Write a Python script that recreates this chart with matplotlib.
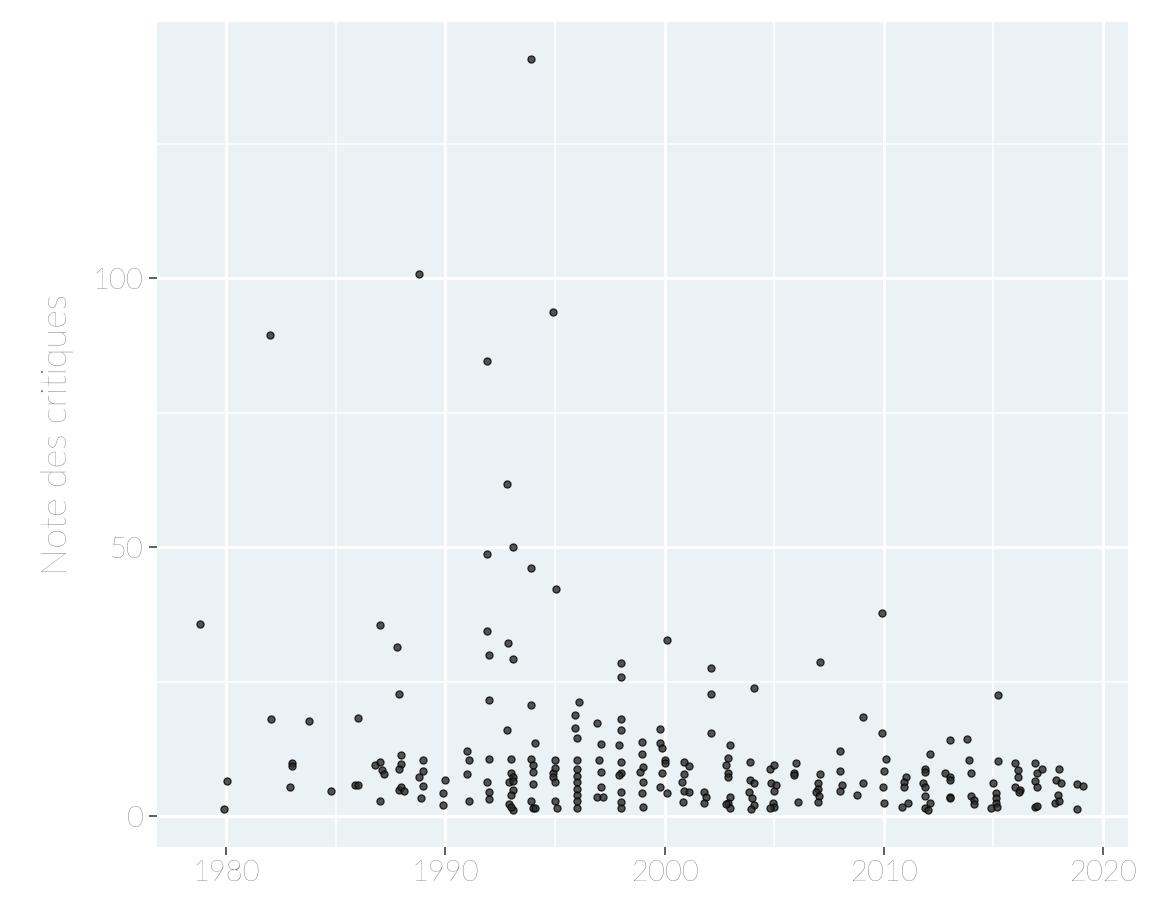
import matplotlib.pyplot as plt
from matplotlib.ticker import MultipleLocator

# ── Données (année jitterée, note) ───────────────────────────────────────────
years = [
    1978.8, 1979.9, 1980.05, 1982.0, 1982.05, 1983.0, 1983.0, 1982.9, 1983.8, 1984.8,
    1985.9, 1986.0, 1986.0, 1987.0, 1986.8, 1987.0, 1987.1, 1987.2, 1987.0,
    1987.8, 1987.9, 1988.0, 1988.0, 1987.9, 1987.9, 1988.0, 1988.1, 1988.8,
    1989.0, 1989.0, 1988.8, 1989.0, 1988.9,
    1990.0, 1989.9, 1989.9, 1991.0, 1991.1, 1991.0, 1991.1,
    1991.9, 1992.0, 1992.0, 1992.0, 1991.9, 1992.0, 1992.0, 1991.9,
    1992.85, 1993.1, 1992.8, 1993.0, 1993.0, 1993.1, 1992.9, 1993.1, 1993.1, 1993.0, 1992.9, 1993.1, 1993.0,
    1992.8, 1993.1, 1991.9,
    1993.9, 1994.1, 1993.9, 1994.0, 1994.0, 1994.0, 1993.9, 1994.0, 1994.1, 1993.9,
    1995.05, 1995.0, 1994.9, 1994.9, 1995.0, 1995.0, 1995.1, 1994.9, 1995.0,
    1995.9, 1995.9, 1996.0, 1996.1,
    1996.0, 1996.0, 1996.0, 1996.0, 1996.0, 1996.0, 1996.0, 1996.0,
    1996.9, 1997.1, 1997.0, 1997.1, 1997.1, 1996.9, 1997.2,
    1998.0, 1998.0, 1998.0, 1998.0, 1997.9, 1998.0, 1998.0, 1997.9, 1998.0, 1998.0, 1998.0,
    1998.95, 1998.95, 1999.0, 1998.9, 1999.0, 1998.95, 1999.0,
    2000.1, 1999.8, 1999.8, 1999.9, 2000.0, 2000.0, 1999.9, 1999.8, 2000.1,
    2002.1, 2002.1, 2002.1,
    2000.9, 2001.1, 2000.9, 2000.8, 2000.9, 2001.1, 2000.85,
    2001.8, 2001.9, 2001.8,
    2003.0, 2002.9, 2002.8, 2002.9, 2002.9, 2003.0, 2002.9, 2003.0, 2002.8,
    2004.1, 2003.9, 2003.9, 2004.1, 2003.85, 2004.0, 2004.1, 2003.95,
    2004.8, 2005.0, 2004.85, 2005.1, 2005.0, 2004.95, 2005.0, 2004.8,
    2006.0, 2005.9, 2005.9, 2006.1,
    2007.1, 2007.1, 2007.0, 2007.0, 2006.9, 2007.05, 2007.0,
    2008.0, 2008.0, 2008.1, 2008.0,
    2009.05, 2009.05, 2008.8,
    2009.9, 2009.9, 2010.1, 2010.0, 2009.95, 2010.0,
    2011.0, 2010.9, 2010.9, 2011.1, 2010.85,
    2012.1, 2011.9, 2011.9, 2011.8, 2011.9, 2011.9, 2012.1, 2011.9, 2012.0,
    2013.0, 2012.8, 2013.0, 2013.0, 2013.0, 2013.0,
    2013.8, 2013.9, 2014.0, 2014.0, 2014.1, 2014.1,
    2015.2, 2015.2, 2015.0, 2015.1, 2015.1, 2015.1, 2014.9, 2015.15,
    2016.0, 2016.1, 2016.1, 2016.0, 2016.2, 2016.15,
    2016.9, 2017.2, 2017.0, 2016.9, 2017.0, 2016.9, 2017.0,
    2018.0, 2017.85, 2018.1, 2017.95, 2017.8, 2018.0,
    2018.8, 2019.1, 2018.8,
    1993.9,
]
notes = [
    35.7, 1.3, 6.5, 89.4, 18.0, 9.9, 9.3, 5.4, 17.7, 4.7,
    5.8, 5.8, 18.2, 35.5, 9.5, 10.0, 8.6, 7.8, 2.8,
    31.4, 22.7, 11.3, 9.7, 8.7, 4.8, 5.4, 4.7, 100.7,
    10.4, 8.4, 7.2, 5.6, 3.3,
    6.7, 4.3, 2.1, 12.1, 10.4, 7.8, 2.8,
    34.4, 29.9, 21.6, 10.6, 6.3, 4.5, 3.2, 84.6,
    32.2, 29.2, 16.0, 10.6, 8.0, 7.2, 6.3, 6.5, 4.8, 3.9, 2.2, 1.1, 1.7,
    61.7, 50.0, 48.7,
    20.6, 13.6, 10.6, 9.5, 8.2, 5.9, 2.8, 1.5, 1.5, 46.1,
    42.2, 10.4, 8.0, 7.2, 6.3, 2.8, 1.5, 93.7, 9.0,
    18.8, 16.4, 14.5, 21.2,
    10.4, 8.7, 7.5, 6.3, 5.0, 3.9, 2.8, 1.5,
    17.3, 13.4, 10.4, 8.2, 5.4, 3.5, 3.5,
    28.4, 25.9, 18.0, 16.0, 13.2, 10.0, 8.0, 7.6, 4.5, 2.6, 1.5,
    13.8, 11.5, 9.1, 8.2, 6.3, 4.3, 1.7,
    32.7, 16.2, 13.6, 12.6, 10.4, 9.9, 8.0, 5.4, 4.3,
    27.5, 22.7, 15.4,
    10.0, 9.3, 7.8, 6.3, 4.7, 4.5, 2.6,
    4.5, 3.5, 2.4,
    13.2, 10.8, 9.5, 8.0, 7.2, 3.5, 2.4, 1.5, 2.2,
    23.8, 10.0, 6.7, 6.1, 4.5, 3.3, 2.0, 1.3,
    8.7, 9.5, 6.1, 5.8, 4.7, 2.4, 1.7, 1.5,
    9.9, 8.0, 7.6, 2.6,
    28.6, 7.8, 6.1, 5.0, 4.5, 3.7, 2.6,
    12.1, 8.4, 5.8, 4.7,
    18.4, 6.1, 3.9,
    37.7, 15.4, 10.6, 8.4, 5.4, 2.4,
    7.2, 6.3, 5.4, 2.4, 1.7,
    11.5, 8.7, 8.2, 6.1, 5.4, 3.7, 2.4, 1.5, 1.1,
    14.1, 8.0, 7.2, 6.7, 3.5, 3.3,
    14.3, 10.4, 8.0, 3.7, 3.0, 2.2,
    22.5, 10.2, 6.1, 4.3, 3.3, 2.4, 1.5, 1.7,
    9.9, 8.6, 7.2, 5.4, 4.8, 4.5,
    9.9, 8.7, 8.0, 6.5, 5.4, 1.7, 1.9,
    8.7, 6.7, 6.1, 3.9, 2.4, 2.8,
    5.9, 5.6, 1.3,
    140.7,
]
n = min(len(years), len(notes))
years, notes = years[:n], notes[:n]

# ── Figure ────────────────────────────────────────────────────────────────────
plt.rcParams["font.family"] = ["Lato", "DejaVu Sans"]
fig = plt.figure(figsize=(11.52, 9.22), dpi=100)
ax = fig.add_axes([0.1363, 0.0813, 0.8429, 0.8948])
ax.set_facecolor("#eaf2f5")

ax.scatter(years, notes, s=26, color="#2a2a2a", alpha=0.8,
           edgecolors="#000000", linewidths=0.9, zorder=3)

ax.set_xlim(1976.85, 2021.14)
ax.set_ylim(-5.76, 147.6)
ax.xaxis.set_major_locator(MultipleLocator(10))
ax.xaxis.set_minor_locator(MultipleLocator(5))
ax.yaxis.set_major_locator(MultipleLocator(50))
ax.yaxis.set_minor_locator(MultipleLocator(25))
ax.grid(which="major", color="white", linewidth=2.2)
ax.grid(which="minor", color="white", linewidth=1.1)
ax.set_axisbelow(True)
for s in ax.spines.values():
    s.set_visible(False)

ax.tick_params(which="major", labelsize=21, colors="#444444", length=6, width=1.2)
ax.tick_params(which="minor", length=0)
for lab in ax.get_xticklabels() + ax.get_yticklabels():
    lab.set_fontweight("light")
ax.set_ylabel("Note des critiques", fontsize=26, color="#5a6570",
              labelpad=14, fontweight="light")

fig.savefig("out.png", dpi=100)
